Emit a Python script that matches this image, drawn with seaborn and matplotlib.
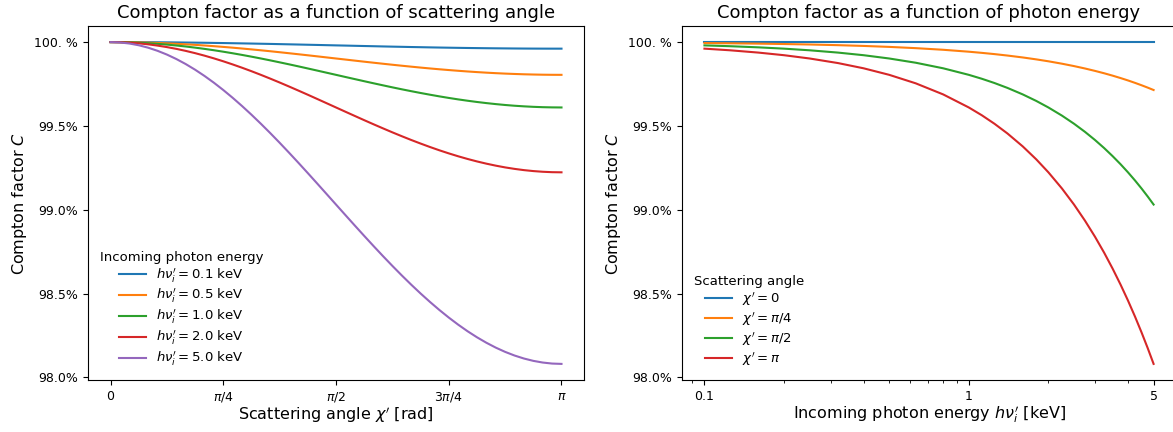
import numpy as np
import pandas as pd
import matplotlib
matplotlib.use("Agg")
import matplotlib.pyplot as plt
from matplotlib.ticker import FixedLocator, FixedFormatter, FuncFormatter, LogLocator, NullFormatter
import seaborn as sns

# ---- Compton factor vs scattering angle (values in %) ----
angle_steps = list(range(49))  # multiples of pi/48, from 0 to pi
energy_labels = ["0.1", "0.5", "1.0", "2.0", "5.0"]
c_e01 = [100.0000, 100.0000, 99.9998, 99.9996, 99.9993, 99.9990, 99.9985, 99.9980, 99.9974,
         99.9967, 99.9960, 99.9951, 99.9943, 99.9933, 99.9923, 99.9913, 99.9902, 99.9891,
         99.9879, 99.9867, 99.9855, 99.9842, 99.9830, 99.9817, 99.9804, 99.9792, 99.9779,
         99.9766, 99.9754, 99.9741, 99.9729, 99.9718, 99.9706, 99.9696, 99.9685, 99.9675,
         99.9666, 99.9657, 99.9649, 99.9642, 99.9635, 99.9629, 99.9624, 99.9619, 99.9615,
         99.9612, 99.9610, 99.9609, 99.9609]
c_e05 = [100.0000, 99.9998, 99.9992, 99.9981, 99.9967, 99.9948, 99.9926, 99.9899, 99.9869,
         99.9835, 99.9798, 99.9757, 99.9713, 99.9667, 99.9617, 99.9565, 99.9511, 99.9455,
         99.9396, 99.9336, 99.9275, 99.9213, 99.9150, 99.9086, 99.9022, 99.8959, 99.8895,
         99.8832, 99.8770, 99.8709, 99.8649, 99.8591, 99.8535, 99.8480, 99.8428, 99.8379,
         99.8333, 99.8289, 99.8248, 99.8211, 99.8177, 99.8147, 99.8121, 99.8099, 99.8080,
         99.8066, 99.8055, 99.8049, 99.8047]
c_e10 = [100.0000, 99.9996, 99.9983, 99.9962, 99.9933, 99.9896, 99.9851, 99.9798, 99.9738,
         99.9670, 99.9596, 99.9515, 99.9427, 99.9334, 99.9235, 99.9131, 99.9023, 99.8910,
         99.8793, 99.8674, 99.8552, 99.8427, 99.8301, 99.8174, 99.8047, 99.7919, 99.7793,
         99.7667, 99.7543, 99.7421, 99.7301, 99.7185, 99.7073, 99.6965, 99.6862, 99.6763,
         99.6670, 99.6583, 99.6503, 99.6429, 99.6362, 99.6302, 99.6249, 99.6204, 99.6168,
         99.6139, 99.6118, 99.6106, 99.6101]
c_e20 = [100.0000, 99.9992, 99.9967, 99.9925, 99.9867, 99.9792, 99.9702, 99.9597, 99.9476,
         99.9341, 99.9192, 99.9030, 99.8855, 99.8668, 99.8471, 99.8264, 99.8047, 99.7822,
         99.7590, 99.7351, 99.7107, 99.6860, 99.6608, 99.6355, 99.6101, 99.5847, 99.5595,
         99.5344, 99.5097, 99.4855, 99.4617, 99.4387, 99.4163, 99.3949, 99.3743, 99.3547,
         99.3363, 99.3190, 99.3030, 99.2883, 99.2750, 99.2631, 99.2526, 99.2438, 99.2364,
         99.2307, 99.2266, 99.2241, 99.2233]
c_e50 = [100.0000, 99.9979, 99.9916, 99.9812, 99.9667, 99.9481, 99.9256, 99.8992, 99.8691,
         99.8354, 99.7982, 99.7578, 99.7142, 99.6678, 99.6186, 99.5670, 99.5131, 99.4573,
         99.3996, 99.3404, 99.2800, 99.2186, 99.1564, 99.0938, 99.0310, 98.9683, 98.9059,
         98.8442, 98.7833, 98.7235, 98.6652, 98.6084, 98.5535, 98.5007, 98.4503, 98.4023,
         98.3571, 98.3148, 98.2755, 98.2395, 98.2069, 98.1778, 98.1523, 98.1306, 98.1127,
         98.0987, 98.0887, 98.0826, 98.0806]

# ---- Compton factor vs photon energy (values in %) ----
energies_kev = [0.1, 0.125, 0.16, 0.2, 0.25, 0.32, 0.4, 0.5, 0.63, 0.8, 1.0, 1.12, 1.25,
                1.4, 1.6, 1.8, 2.0, 2.25, 2.5, 2.75, 3.0, 3.25, 3.5, 3.75, 4.0, 4.25, 4.5,
                4.75, 5.0]
angle_labels = ["0", r"\pi/4", r"\pi/2", r"\pi"]
c_chi0 = [100.0] * len(energies_kev)
c_chi_q = [99.9943, 99.9928, 99.9908, 99.9885, 99.9857, 99.9817, 99.9771, 99.9714, 99.9639,
           99.9542, 99.9427, 99.9358, 99.9284, 99.9198, 99.9084, 99.8969, 99.8855, 99.8712,
           99.8569, 99.8426, 99.8283, 99.8141, 99.7998, 99.7855, 99.7713, 99.7570, 99.7427,
           99.7285, 99.7142]
c_chi_h = [99.9804, 99.9755, 99.9687, 99.9609, 99.9511, 99.9374, 99.9218, 99.9022, 99.8769,
           99.8437, 99.8047, 99.7813, 99.7560, 99.7268, 99.6879, 99.6490, 99.6101, 99.5616,
           99.5131, 99.4647, 99.4163, 99.3680, 99.3196, 99.2715, 99.2233, 99.1752, 99.1271,
           99.0790, 99.0310]
c_chi_pi = [99.9609, 99.9511, 99.9374, 99.9218, 99.9022, 99.8749, 99.8437, 99.8047, 99.7540,
            99.6879, 99.6101, 99.5636, 99.5131, 99.4550, 99.3777, 99.3004, 99.2233, 99.1271,
            99.0310, 98.9351, 98.8395, 98.7440, 98.6486, 98.5535, 98.4586, 98.3638, 98.2692,
            98.1748, 98.0806]

yticks = [98.0, 98.5, 99.0, 99.5, 100.0]
ytick_labels = ["98.0%", "98.5%", "99.0%", "99.5%", "100. %"]

palette = sns.color_palette("tab10")

angles = np.array(angle_steps) * np.pi / 48
df_angle = pd.concat([
    pd.DataFrame({"chi": angles, "C": vals,
                  "series": rf"$h\nu_i' = {lab}$ keV"})
    for lab, vals in zip(energy_labels, [c_e01, c_e05, c_e10, c_e20, c_e50])
])
df_energy = pd.concat([
    pd.DataFrame({"E": energies_kev, "C": vals,
                  "series": rf"$\chi' = {lab}$"})
    for lab, vals in zip(angle_labels, [c_chi0, c_chi_q, c_chi_h, c_chi_pi])
])

fig = plt.figure(figsize=(11.73, 4.32), dpi=100)
ax1 = fig.add_axes([0.0750, 0.1204, 0.4229, 0.8194])
ax2 = fig.add_axes([0.5814, 0.1204, 0.4212, 0.8194])

label_fs = 11.5
title_fs = 13
legend_kw = dict(loc="lower left", frameon=False, fontsize=9.5, title_fontsize=9.5,
                 labelspacing=0.2)

sns.lineplot(data=df_angle, x="chi", y="C", hue="series", palette=palette[:5],
             ax=ax1, linewidth=1.5)
ax1.xaxis.set_major_locator(FixedLocator([0, np.pi / 4, np.pi / 2, 3 * np.pi / 4, np.pi]))
ax1.xaxis.set_major_formatter(FixedFormatter(["0", r"$\pi/4$", r"$\pi/2$", r"$3\pi/4$", r"$\pi$"]))
ax1.set_xlabel(r"Scattering angle $\chi'$ [rad]", fontsize=label_fs, labelpad=0.5)
ax1.set_ylabel(r"Compton factor $C$", fontsize=label_fs)
ax1.set_title("Compton factor as a function of scattering angle", fontsize=title_fs)
ax1.legend(title="Incoming photon energy", **legend_kw)

sns.lineplot(data=df_energy, x="E", y="C", hue="series", palette=palette[:4],
             ax=ax2, linewidth=1.5)
ax2.set_xscale("log")
ax2.xaxis.set_major_locator(FixedLocator([0.1, 1, 5]))
ax2.xaxis.set_major_formatter(FuncFormatter(lambda v, pos: f"{v:g}"))
ax2.xaxis.set_minor_locator(LogLocator(base=10, subs=np.arange(2, 10)))
ax2.xaxis.set_minor_formatter(NullFormatter())
ax2.set_xlabel(r"Incoming photon energy $h\nu_i'$ [keV]", fontsize=label_fs, labelpad=0.5)
ax2.set_ylabel(r"Compton factor $C$", fontsize=label_fs)
ax2.set_title("Compton factor as a function of photon energy", fontsize=title_fs)
ax2.legend(title="Scattering angle", **legend_kw)

for ax in (ax1, ax2):
    ax.yaxis.set_major_locator(FixedLocator(yticks))
    ax.yaxis.set_major_formatter(FixedFormatter(ytick_labels))
    ax.tick_params(labelsize=9)

fig.savefig("out.png", dpi=100)
